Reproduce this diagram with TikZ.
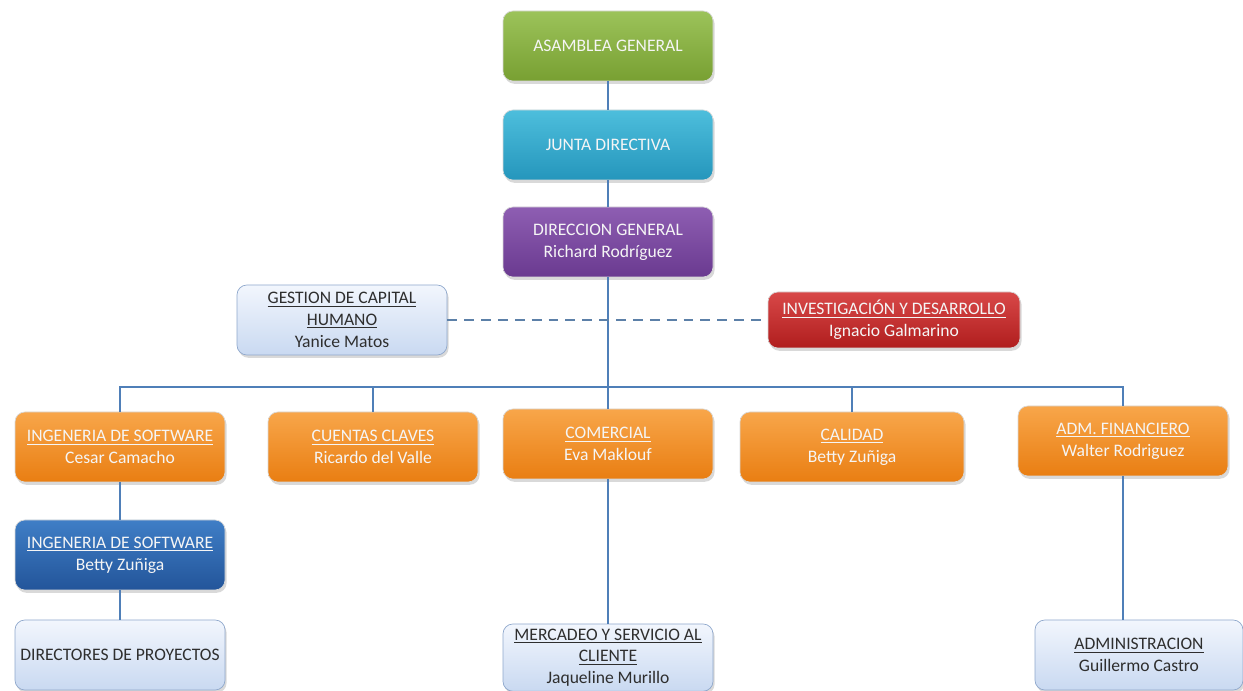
\documentclass[tikz,border=0pt]{standalone}
\usepackage{fontspec}
\setmainfont{Carlito}
\usepackage{tikz}
\usetikzlibrary{shadows,positioning}
\definecolor{linkblue}{HTML}{4F7FB8}
\definecolor{dashblue}{HTML}{5C80A8}
\definecolor{lightedge}{HTML}{8FA8CC}
\definecolor{darktext}{HTML}{2E2E2E}
\definecolor{boxedge}{HTML}{D8D8D8}
\definecolor{greentop}{HTML}{9CC35A}
\definecolor{greenbot}{HTML}{78A032}
\definecolor{cyantop}{HTML}{4DBEDC}
\definecolor{cyanbot}{HTML}{2596BC}
\definecolor{purpletop}{HTML}{8E5EB2}
\definecolor{purplebot}{HTML}{6A3A90}
\definecolor{redtop}{HTML}{D84848}
\definecolor{redbot}{HTML}{B01E1E}
\definecolor{orangetop}{HTML}{F8A64A}
\definecolor{orangebot}{HTML}{E97E12}
\definecolor{darktop}{HTML}{3F7EC6}
\definecolor{darkbot}{HTML}{23559A}
\definecolor{lighttop}{HTML}{F2F6FD}
\definecolor{lightbot}{HTML}{C9D9F1}
\tikzset{
  orgbox/.style={
    rounded corners=7pt,
    align=center,
    minimum width=5.25cm,
    minimum height=1.75cm,
    inner sep=3pt,
    text=white!96!black,
    draw=boxedge,
    line width=0.5pt,
    font=\fontsize{12.5}{15.5}\selectfont,
    drop shadow={opacity=0.3, shadow xshift=0.04cm, shadow yshift=-0.07cm}
  },
  greenbox/.style={orgbox, top color=greentop, bottom color=greenbot},
  cyanbox/.style={orgbox, top color=cyantop, bottom color=cyanbot},
  purplebox/.style={orgbox, top color=purpletop, bottom color=purplebot},
  redbox/.style={orgbox, top color=redtop, bottom color=redbot},
  orangebox/.style={orgbox, top color=orangetop, bottom color=orangebot},
  darkbox/.style={orgbox, top color=darktop, bottom color=darkbot},
  lightbox/.style={orgbox, draw=lightedge, text=darktext, top color=lighttop, bottom color=lightbot},
  orgline/.style={draw=linkblue, line width=1.4pt},
  dashline/.style={draw=dashblue, line width=1.8pt, dash pattern=on 7pt off 5pt}
}

\begin{document}
\begin{tikzpicture}
  \useasboundingbox (0,0) rectangle (31.075,-17.275);
  % top chain
  \node[greenbox] (asamblea) at (15.2,-1.15) {ASAMBLEA GENERAL};
  \node[cyanbox] (junta) at (15.2,-3.625) {JUNTA DIRECTIVA};
  \node[purplebox] (direccion) at (15.2,-6.05) {DIRECCION GENERAL\\Richard Rodríguez};
  % staff units
  \node[lightbox] (gestion) at (8.55,-8.0) {\underline{GESTION DE CAPITAL}\\\underline{HUMANO}\\Yanice Matos};
  \node[redbox, minimum width=6.3cm, minimum height=1.4cm] (investigacion) at (22.35,-8.0) {\underline{INVESTIGACIÓN Y DESARROLLO}\\Ignacio Galmarino};
  % departments
  \node[orangebox] (ingsoft) at (3.0,-11.175) {\underline{INGENERIA DE SOFTWARE}\\Cesar Camacho};
  \node[orangebox] (cuentas) at (9.325,-11.175) {\underline{CUENTAS CLAVES}\\Ricardo del Valle};
  \node[orangebox] (comercial) at (15.2,-11.1) {\underline{COMERCIAL}\\Eva Maklouf};
  \node[orangebox, minimum width=5.6cm] (calidad) at (21.3,-11.175) {\underline{CALIDAD}\\Betty Zuñiga};
  \node[orangebox] (admfin) at (28.075,-11.025) {\underline{ADM. FINANCIERO}\\Walter Rodriguez};
  % lower levels
  \node[darkbox] (ingsoft2) at (3.0,-13.875) {\underline{INGENERIA DE SOFTWARE}\\Betty Zuñiga};
  \node[lightbox] (directores) at (3.0,-16.375) {DIRECTORES DE PROYECTOS};
  \node[lightbox, minimum height=1.68cm] (mercadeo) at (15.2,-16.44) {\underline{MERCADEO Y SERVICIO AL}\\\underline{CLIENTE}\\Jaqueline Murillo};
  \node[lightbox, minimum width=5.2cm] (administracion) at (28.475,-16.375) {\underline{ADMINISTRACION}\\Guillermo Castro};
  \coordinate (bus) at (15.2,-9.675);
  % connectors
  \draw[orgline] (asamblea) -- (junta);
  \draw[orgline] (junta) -- (direccion);
  \draw[orgline] (direccion) -- (comercial);
  \draw[dashline] (gestion) -- (investigacion);
  \draw[orgline] (ingsoft.north) |- (bus) -| (admfin.north);
  \draw[orgline] (cuentas.north) -- (cuentas.north |- bus);
  \draw[orgline] (calidad.north) -- (calidad.north |- bus);
  \draw[orgline] (ingsoft) -- (ingsoft2);
  \draw[orgline] (ingsoft2) -- (directores);
  \draw[orgline] (comercial) -- (mercadeo);
  \draw[orgline] (admfin.south) -- (admfin.south |- administracion.north);
\end{tikzpicture}
\end{document}
